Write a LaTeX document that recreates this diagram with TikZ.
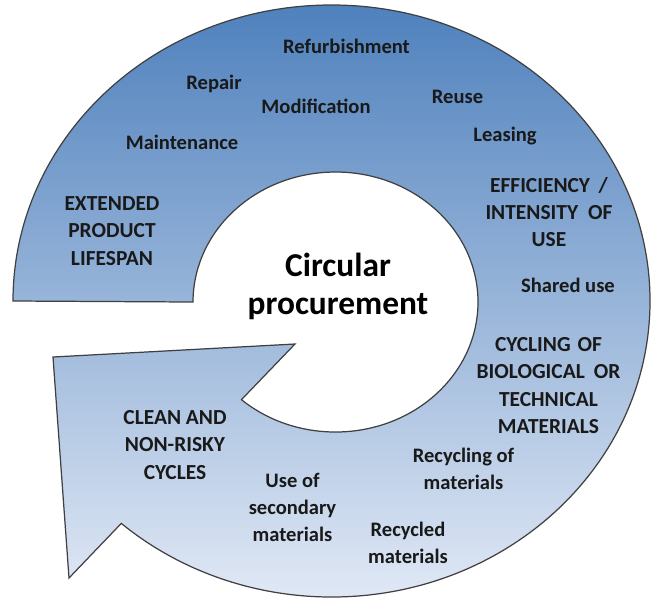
\documentclass[tikz,border=0pt]{standalone}
\usepackage{xcolor}
\usepackage{fontspec}
\setmainfont{Carlito}
\definecolor{ringtop}{RGB}{79,129,189}
\definecolor{ringmid}{RGB}{160,187,222}
\definecolor{ringbot}{RGB}{224,232,245}

\begin{document}
\begin{tikzpicture}[x=0.02cm, y=0.02cm, main/.style = {font=\bfseries\fontsize{11.7}{15.2}\selectfont, align=center, inner sep=0pt, text=black!90}, caps/.style = {main, font=\bfseries\fontsize{12.2}{15.6}\selectfont}, big/.style = {font=\bfseries\fontsize{19}{21.5}\selectfont, align=center, inner sep=0pt}]
	\useasboundingbox (0,0) rectangle (651,600);
	% ring with arrow head
	\draw[draw=black!75, line width=0.7pt, top color=ringtop, middle color=ringmid, bottom color=ringbot]
		(13,299) arc[start angle=180, end angle=-131.3, x radius=318.5, y radius=296]
		-- (69,22) -- (53,243) -- (295,256) -- (241.45,200.33)
		arc[start angle=-131.3, end angle=180, x radius=142.5, y radius=130] -- cycle;
	\node[big] (1) at (338,313.5) {Circular\\procurement};
	\node[main] (2) at (346.5,554) {Refurbishment};
	\node[main] (3) at (214,516) {Repair};
	\node[main] (4) at (316,494) {Modification};
	\node[main] (5) at (457.5,503) {Reuse};
	\node[main] (6) at (182,458) {Maintenance};
	\node[main] (7) at (505,464) {Leasing};
	\node[caps] (8) at (112,369) {EXTENDED\\PRODUCT\\LIFESPAN};
	\node[caps] (9) at (549,388) {EFFICIENCY\hspace{0.4em}/\\INTENSITY\hspace{0.47em}OF\\USE};
	\node[main] (10) at (568,315) {Shared use};
	\node[caps] (11) at (548.5,214.5) {CYCLING\hspace{0.32em}OF\\BIOLOGICAL\hspace{0.42em}OR\\TECHNICAL\\MATERIALS};
	\node[main] (12) at (463.5,131) {Recycling of\\materials};
	\node[caps] (13) at (175,155) {CLEAN AND\\NON-RISKY\\CYCLES};
	\node[main] (14) at (292.5,92.5) {Use of\\secondary\\materials};
	\node[main] (15) at (408,57) {Recycled\\materials};
\end{tikzpicture}
\end{document}
